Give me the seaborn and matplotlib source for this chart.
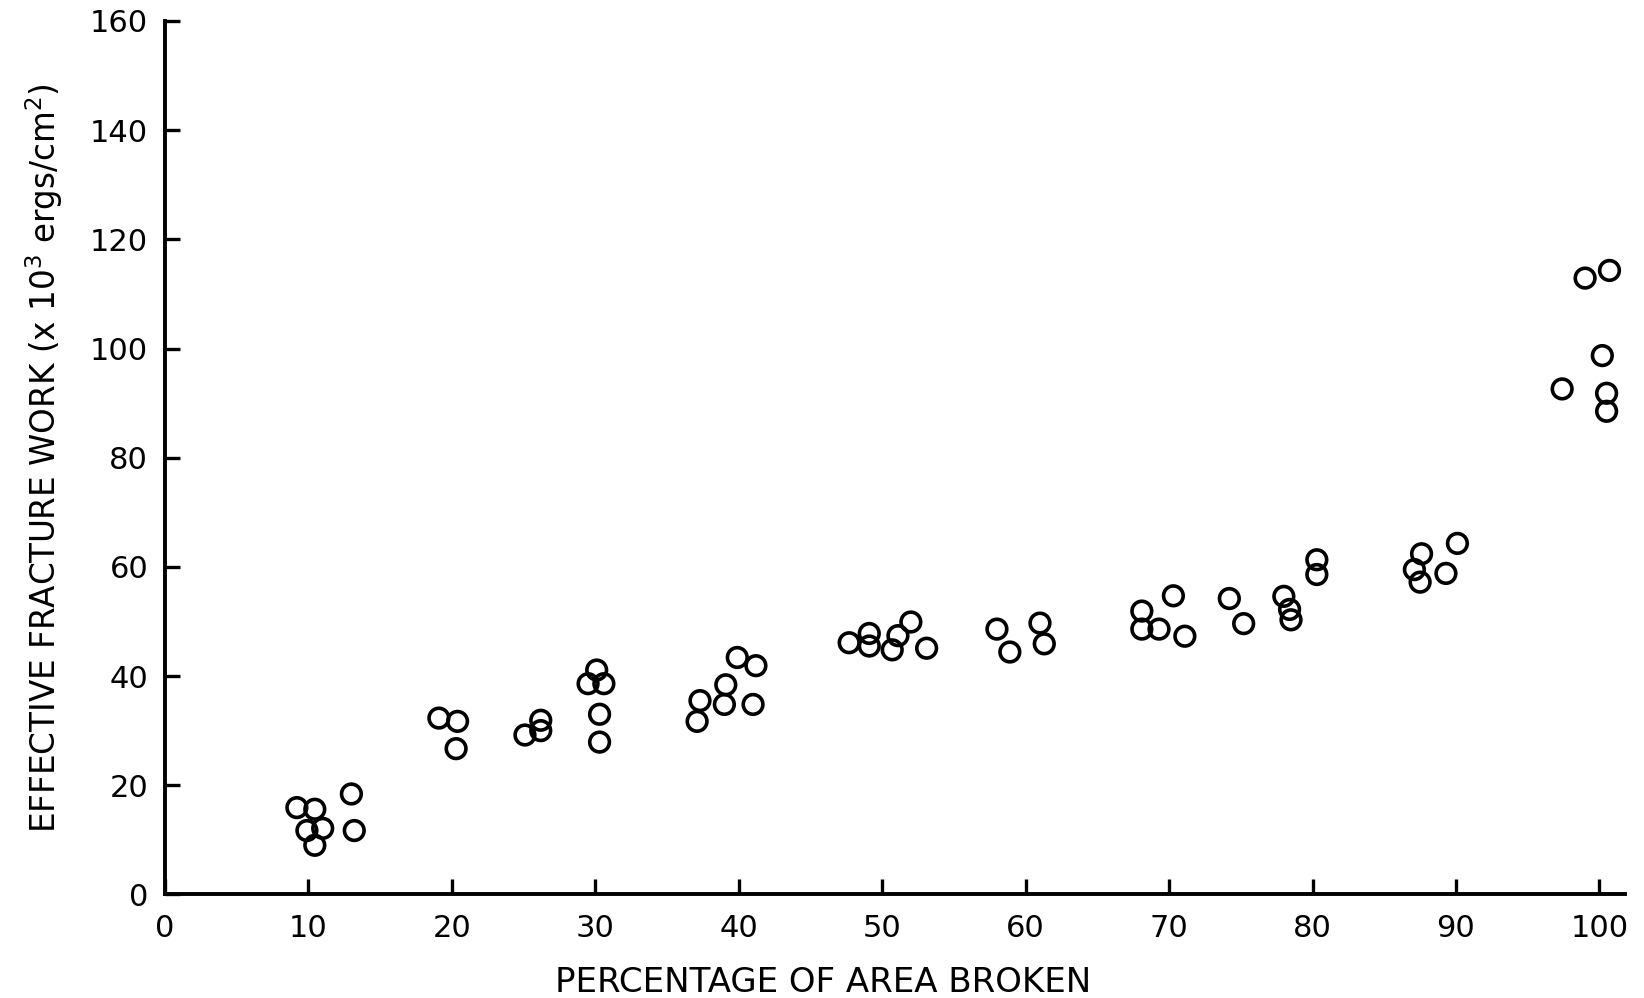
import matplotlib
matplotlib.use("Agg")
import matplotlib.pyplot as plt
import seaborn as sns
import pandas as pd

# Data
area_broken = [
    9.2, 10.45, 9.9, 11.0, 10.45, 13.0, 13.2,
    19.1, 20.4, 20.3,
    25.1, 26.2, 26.2,
    30.1, 29.5, 30.6, 30.3, 30.3,
    37.3, 37.1, 39.1, 39.0, 39.9, 41.2, 41.0,
    47.7, 49.1, 49.1, 50.7, 51.1, 52.0, 53.1,
    58.0, 58.9, 61.0, 61.3,
    68.1, 68.1, 69.3, 70.3, 71.1,
    74.2, 75.2, 78.0, 78.4, 78.5, 80.3, 80.3,
    87.1, 87.5, 87.6, 89.3, 90.1,
    97.4, 99.0, 100.7, 100.2, 100.5, 100.5,
]
fracture_work = [
    15.9, 15.6, 11.7, 12.1, 9.0, 18.4, 11.7,
    32.3, 31.7, 26.7,
    29.2, 31.9, 30.0,
    41.1, 38.6, 38.6, 33.0, 27.9,
    35.5, 31.7, 38.4, 34.8, 43.4, 41.9, 34.8,
    46.1, 47.8, 45.5, 44.8, 47.4, 49.9, 45.1,
    48.6, 44.4, 49.7, 45.9,
    51.9, 48.6, 48.6, 54.7, 47.3,
    54.2, 49.6, 54.6, 52.2, 50.3, 58.6, 61.3,
    59.5, 57.2, 62.4, 58.8, 64.3,
    92.6, 112.9, 114.3, 98.7, 91.8, 88.5,
]
x_ticks = [0, 10, 20, 30, 40, 50, 60, 70, 80, 90, 100]
y_ticks = [0, 20, 40, 60, 80, 100, 120, 140, 160]

df = pd.DataFrame({"area": area_broken, "work": fracture_work})

sns.set_theme(style="ticks")
plt.rcParams["font.family"] = ["DejaVu Sans"]

fig = plt.figure(figsize=(16.44, 9.98), dpi=100)
ax = fig.add_axes([0.1003, 0.1038, 0.8883, 0.8752])

sns.scatterplot(data=df, x="area", y="work", ax=ax, s=200,
                facecolor="none", edgecolor="black", linewidth=2.6,
                marker="o", legend=False)

ax.set_xlim(0, 101.8)
ax.set_ylim(0, 160)
ax.set_xticks(x_ticks)
ax.set_yticks(y_ticks)
ax.tick_params(direction="in", length=11, width=2.4, labelsize=22,
               colors="black")
ax.tick_params(axis="x", pad=14)
ax.tick_params(axis="y", pad=12)
for s in ["top", "right"]:
    ax.spines[s].set_visible(False)
for s in ["left", "bottom"]:
    ax.spines[s].set_linewidth(2.8)
    ax.spines[s].set_color("black")

ax.set_xlabel("PERCENTAGE OF AREA BROKEN", fontsize=24.5, color="black")
ax.xaxis.set_label_coords(0.451, -0.082)
ax.set_ylabel(r"EFFECTIVE FRACTURE WORK (x 10$^3$ ergs/cm$^2$)",
              fontsize=23.5, color="black", labelpad=18)

fig.savefig("out.png", dpi=100, facecolor="white")
